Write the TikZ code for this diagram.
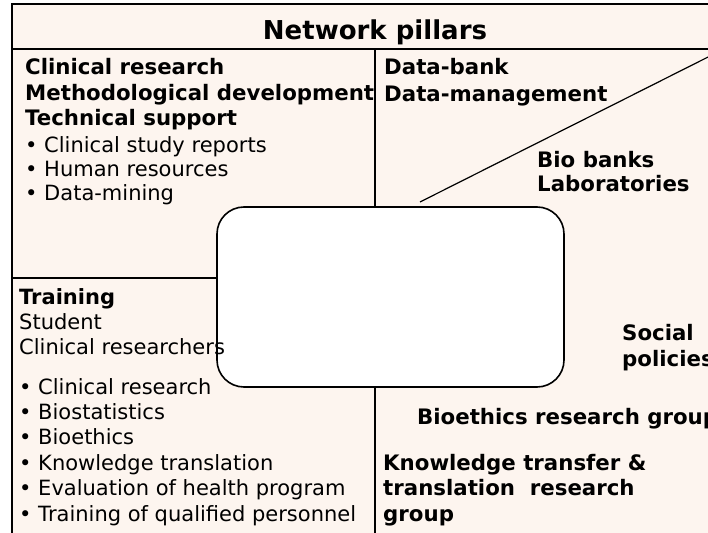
\documentclass[tikz,border=0pt]{standalone}
\usepackage{fontspec}
\setmainfont{DejaVu Sans}
\definecolor{panel}{RGB}{253,245,239}
\begin{document}
\begin{tikzpicture}[x=1bp,y=-1bp,
  frame/.style={line width=1.6bp, black},
  txt/.style={inner sep=0pt, anchor=base west, align=left,
    font=\fontsize{21bp}{25bp}\selectfont},
  bold/.style={txt, font=\fontsize{21.3bp}{25.5bp}\selectfont\bfseries},
  hubbox/.style={draw=black, line width=1.6bp, fill=white,
    rounded corners=27bp, minimum width=347bp, minimum height=180bp, inner sep=0pt}]
\useasboundingbox (0,0) rectangle (708,533);
% panel background and frame
\fill[panel] (12,4) rectangle (720,545);
\draw[frame] (12,545) -- (12,4) -- (720,4);
\draw[frame] (12,49) -- (720,49);
\draw[frame] (375,49) -- (375,210);
\draw[frame] (375,385) -- (375,545);
\draw[frame] (12,278) -- (220,278);
\draw[line width=1.2bp] (420,202) -- (722,50);
% central box
\node[hubbox] (hub) at (390.5,297) {};
% title (single line: base anchor is its baseline)
\node[inner sep=0pt, anchor=base, font=\fontsize{26bp}{30bp}\selectfont\bfseries] (title) at (375,40) {Network pillars};
% blocks below are placed by the baseline of their last line
% top-left quadrant
\node[bold] (clin) at (25,126) {Clinical research\\Methodological development\\Technical support};
\node[txt, font=\fontsize{21bp}{24bp}\selectfont] (clinlist) at (25,201) {• Clinical study reports\\• Human resources\\• Data-mining};
% top-right quadrant
\node[bold, font=\fontsize{21.3bp}{27bp}\selectfont\bfseries] (data) at (384,102) {Data-bank\\Data-management};
\node[bold, font=\fontsize{21.3bp}{24bp}\selectfont\bfseries] (bio) at (537,192) {Bio banks\\Laboratories};
% bottom-left quadrant
\node[txt, font=\fontsize{21bp}{25bp}\selectfont] (train) at (19,354) {\textbf{Training}\\Student\\Clinical researchers};
\node[txt, font=\fontsize{21bp}{25.4bp}\selectfont] (trainlist) at (19,521) {• Clinical research\\• Biostatistics\\• Bioethics\\• Knowledge translation\\• Evaluation of health program\\• Training of qualified personnel};
% bottom-right quadrant
\node[bold, font=\fontsize{21.3bp}{26bp}\selectfont\bfseries] (social) at (622,366) {Social\\policies};
\node[bold] (bioeth) at (417,424) {Bioethics research group};
\node[bold, font=\fontsize{21.3bp}{25.5bp}\selectfont\bfseries] (ktrans) at (383,521) {Knowledge transfer \&\\translation\ \ research\\group};
\end{tikzpicture}
\end{document}
